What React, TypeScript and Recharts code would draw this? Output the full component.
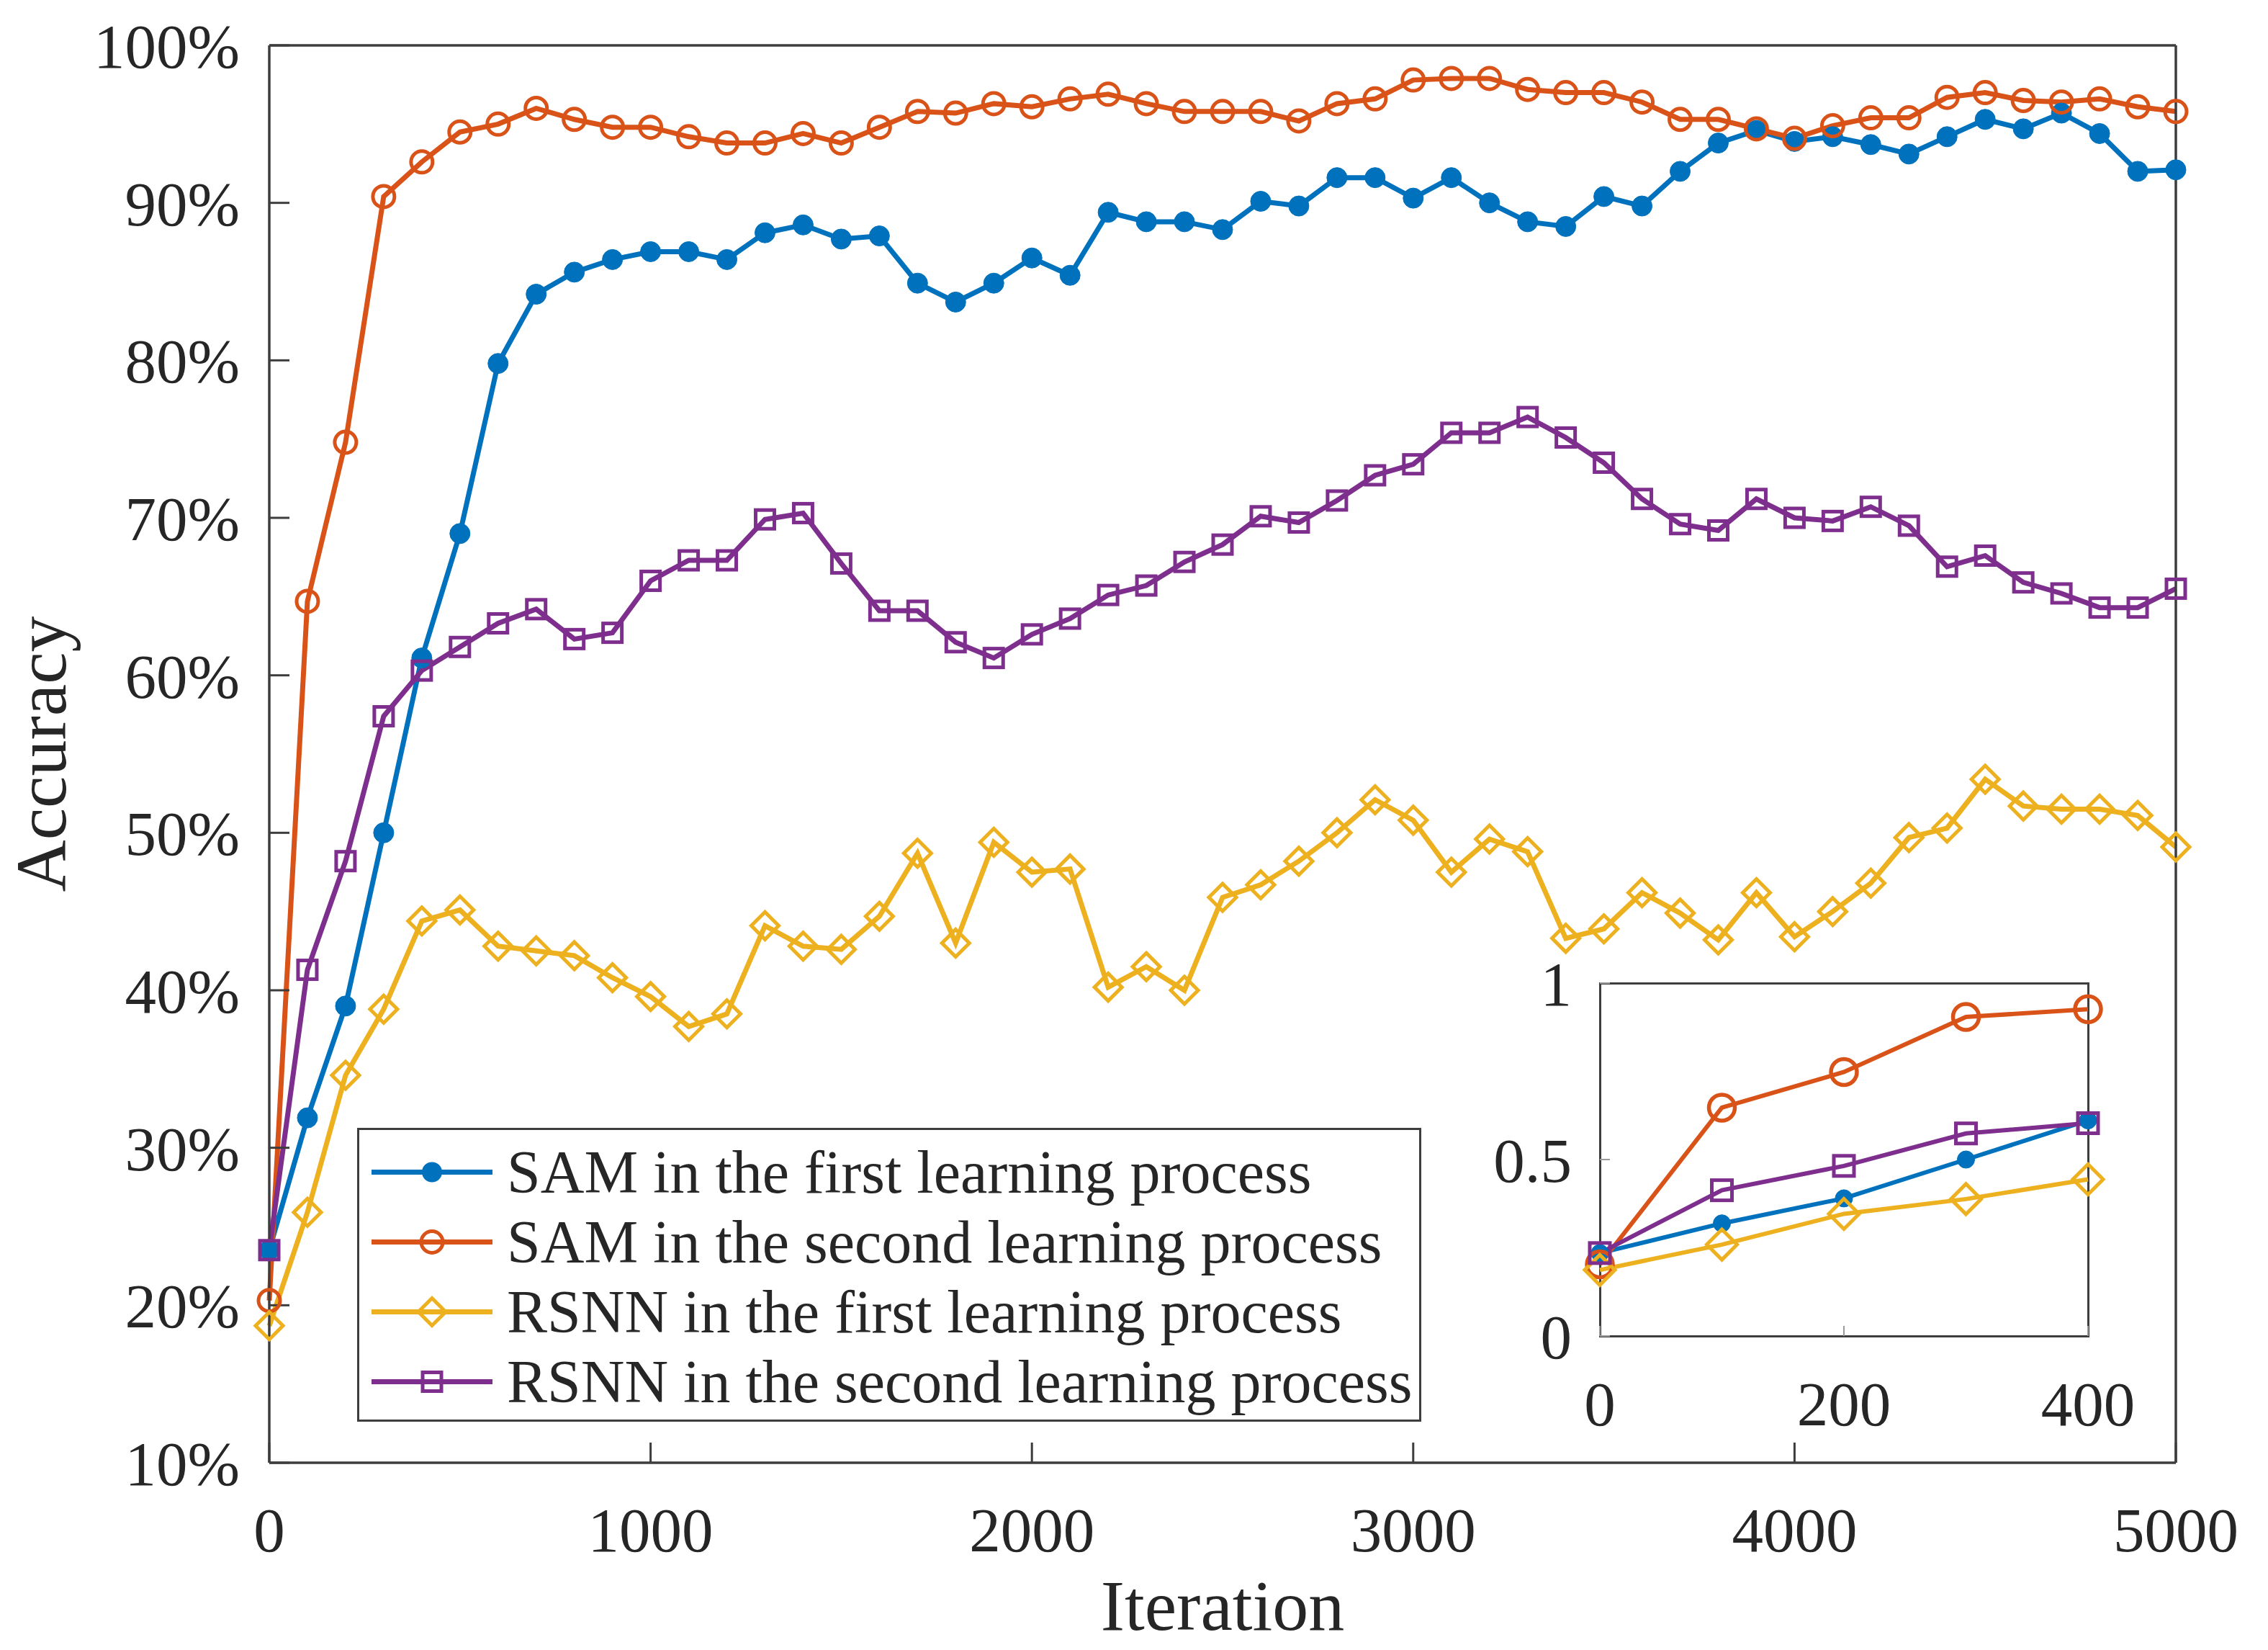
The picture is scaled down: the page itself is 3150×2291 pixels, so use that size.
import { LineChart, Line, XAxis, YAxis } from "recharts";

const FONT = '"Liberation Serif", "Times New Roman", Times, serif';
const INK = "#262626";
const AXIS = "#3d3d3d";

const BLUE = "#0072BD";
const ORANGE = "#D95319";
const YELLOW = "#EDB120";
const PURPLE = "#7E2F8E";

// iteration steps on the x axis
const iterations = [
  0, 100, 200, 300, 400, 500, 600, 700, 800, 900, 1000, 1100, 1200, 1300, 1400, 1500, 1600, 1700,
  1800, 1900, 2000, 2100, 2200, 2300, 2400, 2500, 2600, 2700, 2800, 2900, 3000, 3100, 3200, 3300,
  3400, 3500, 3600, 3700, 3800, 3900, 4000, 4100, 4200, 4300, 4400, 4500, 4600, 4700, 4800, 4900, 5000,
];

// accuracy in %
const samFirst = [
  23.5, 31.9, 39.0, 50.0, 61.1, 69.0, 79.8, 84.2, 85.6, 86.4, 86.9, 86.9, 86.4, 88.1, 88.6, 87.7, 87.9,
  84.9, 83.7, 84.9, 86.5, 85.4, 89.4, 88.8, 88.8, 88.3, 90.1, 89.8, 91.6, 91.6, 90.3, 91.6, 90.0, 88.8,
  88.5, 90.4, 89.8, 92.0, 93.8, 94.6, 93.9, 94.2, 93.7, 93.1, 94.2, 95.3, 94.7, 95.7, 94.4, 92.0, 92.1,
];
const samSecond = [
  20.3, 64.7, 74.8, 90.4, 92.6, 94.5, 95.0, 96.0, 95.3, 94.8, 94.8, 94.2, 93.8, 93.8, 94.4, 93.8, 94.8,
  95.8, 95.7, 96.3, 96.1, 96.6, 96.9, 96.3, 95.8, 95.8, 95.8, 95.2, 96.3, 96.6, 97.8, 97.9, 97.9, 97.2,
  97.0, 97.0, 96.4, 95.3, 95.3, 94.7, 94.1, 94.9, 95.4, 95.4, 96.7, 97.0, 96.5, 96.4, 96.6, 96.1, 95.8,
];
const rsnnFirst = [
  18.7, 25.9, 34.6, 38.8, 44.4, 45.1, 42.8, 42.5, 42.2, 40.8, 39.6, 37.7, 38.5, 44.1, 42.8, 42.6, 44.7,
  48.7, 43.0, 49.4, 47.5, 47.7, 40.2, 41.5, 40.0, 45.9, 46.7, 48.2, 50.0, 52.1, 50.8, 47.5, 49.6, 48.8,
  43.3, 43.9, 46.2, 44.9, 43.2, 46.2, 43.4, 45.0, 46.8, 49.7, 50.3, 53.4, 51.7, 51.5, 51.5, 51.1, 49.1,
];
const rsnnSecond = [
  23.5, 41.3, 48.2, 57.4, 60.3, 61.8, 63.3, 64.2, 62.3, 62.7, 66.0, 67.3, 67.3, 69.9, 70.3, 67.1, 64.1,
  64.1, 62.1, 61.1, 62.6, 63.6, 65.1, 65.7, 67.2, 68.3, 70.1, 69.7, 71.1, 72.7, 73.4, 75.4, 75.4, 76.4,
  75.1, 73.5, 71.2, 69.6, 69.2, 71.2, 70.0, 69.8, 70.7, 69.5, 66.9, 67.6, 65.9, 65.2, 64.3, 64.3, 65.5,
];

const xTicks = [0, 1000, 2000, 3000, 4000, 5000];
const yTicks = [10, 20, 30, 40, 50, 60, 70, 80, 90, 100];
const insetXTicks = [0, 200, 400];
const insetYTicks = [0, 0.5, 1];

const legendLabels = [
  "SAM in the first learning process",
  "SAM in the second learning process",
  "RSNN in the first learning process",
  "RSNN in the second learning process",
];

const mainData = iterations.map((iter, i) => ({
  iter,
  samFirst: samFirst[i],
  samSecond: samSecond[i],
  rsnnFirst: rsnnFirst[i],
  rsnnSecond: rsnnSecond[i],
}));

// the inset zooms into the first 400 iterations, as a fraction
const insetData = iterations.slice(0, 5).map((iter, i) => ({
  iter,
  samFirst: samFirst[i] / 100,
  samSecond: samSecond[i] / 100,
  rsnnFirst: rsnnFirst[i] / 100,
  rsnnSecond: rsnnSecond[i] / 100,
}));

const Diamond = ({ cx, cy, r, sw }: any) => (
  <path
    d={`M${cx},${cy - r}L${cx + r},${cy}L${cx},${cy + r}L${cx - r},${cy}Z`}
    fill="none"
    stroke={YELLOW}
    strokeWidth={sw}
  />
);

const Square = ({ cx, cy, r, sw }: any) => (
  <rect x={cx - r} y={cy - r} width={2 * r} height={2 * r} fill="none" stroke={PURPLE} strokeWidth={sw} />
);

const diamondDot = (r: number, sw: number) => (p: any) =>
  <Diamond key={`dm-${p.index}`} cx={p.cx} cy={p.cy} r={r} sw={sw} />;
const squareDot = (r: number, sw: number) => (p: any) =>
  <Square key={`sq-${p.index}`} cx={p.cx} cy={p.cy} r={r} sw={sw} />;

const tickStyle = { fill: INK, fontSize: 87, fontFamily: FONT };

const Legend = () => (
  <div
    style={{
      position: "absolute",
      left: 496,
      top: 1566,
      width: 1478,
      height: 408,
      boxSizing: "border-box",
      border: `3px solid ${AXIS}`,
      background: "#fff",
      fontFamily: FONT,
      color: INK,
    }}
  >
    {legendLabels.map((label, i) => (
      <div
        key={label}
        style={{ position: "absolute", left: 0, top: 10 + i * 97, height: 97, display: "flex", alignItems: "center" }}
      >
        <svg width={205} height={97}>
          <line
            x1={17}
            x2={185}
            y1={48.5}
            y2={48.5}
            stroke={[BLUE, ORANGE, YELLOW, PURPLE][i]}
            strokeWidth={7}
          />
          {i === 0 && <circle cx={101} cy={48.5} r={14} fill={BLUE} />}
          {i === 1 && <circle cx={101} cy={48.5} r={15} fill="none" stroke={ORANGE} strokeWidth={5} />}
          {i === 2 && <Diamond cx={101} cy={48.5} r={19} sw={5} />}
          {i === 3 && <Square cx={101} cy={48.5} r={13} sw={5} />}
        </svg>
        <span style={{ fontSize: 84, whiteSpace: "nowrap" }}>{label}</span>
      </div>
    ))}
  </div>
);

const Inset = () => (
  <>
    <div
      style={{
        position: "absolute",
        left: 2220.5,
        top: 1363.5,
        width: 681,
        height: 493,
        boxSizing: "border-box",
        border: `3px solid ${AXIS}`,
        background: "#fff",
      }}
    />
    <div style={{ position: "absolute", left: 2022, top: 1305 }}>
      <LineChart width={1008} height={700} data={insetData} margin={{ top: 60, right: 130, left: 0, bottom: 0 }}>
        <XAxis
          dataKey="iter"
          type="number"
          domain={[0, 400]}
          ticks={insetXTicks}
          interval={0}
          height={150}
          axisLine={false}
          tickSize={-14}
          tickMargin={76}
          tickLine={{ stroke: "#9a9a9a", strokeWidth: 2 }}
          tick={tickStyle}
        />
        <YAxis
          type="number"
          domain={[0, 1]}
          ticks={insetYTicks}
          interval={0}
          width={200}
          axisLine={false}
          tickSize={-14}
          tickMargin={53}
          tickLine={{ stroke: "#9a9a9a", strokeWidth: 2 }}
          tick={tickStyle}
        />
        <Line dataKey="samFirst" stroke={BLUE} strokeWidth={6} dot={{ r: 12, fill: BLUE, stroke: BLUE, strokeWidth: 1 }} isAnimationActive={false} />
        <Line dataKey="samSecond" stroke={ORANGE} strokeWidth={6} dot={{ r: 18, fill: "none", stroke: ORANGE, strokeWidth: 5.5 }} isAnimationActive={false} />
        <Line dataKey="rsnnFirst" stroke={YELLOW} strokeWidth={6} dot={diamondDot(21, 5)} isAnimationActive={false} />
        <Line dataKey="rsnnSecond" stroke={PURPLE} strokeWidth={6} dot={squareDot(14, 5)} isAnimationActive={false} />
      </LineChart>
    </div>
  </>
);

export default function App() {
  return (
    <div style={{ position: "absolute", left: 0, top: 0, width: 3150, height: 2291, background: "#fff", fontFamily: FONT }}>
      <LineChart width={3150} height={2291} data={mainData} margin={{ top: 62, right: 127, left: 0, bottom: 0 }}>
        <XAxis
          dataKey="iter"
          type="number"
          domain={[0, 5000]}
          ticks={xTicks}
          interval={0}
          height={260}
          stroke={AXIS}
          axisLine={{ stroke: AXIS, strokeWidth: 3.5 }}
          tickLine={{ stroke: AXIS, strokeWidth: 3 }}
          tickSize={-28}
          tickMargin={89}
          tick={tickStyle}
          label={{
            content: ({ viewBox }: any) => (
              <text
                x={viewBox.x + viewBox.width / 2}
                y={2263}
                textAnchor="middle"
                fill={INK}
                fontSize={100}
                fontFamily={FONT}
              >
                Iteration
              </text>
            ),
          }}
        />
        <XAxis
          xAxisId="top"
          orientation="top"
          dataKey="iter"
          type="number"
          domain={[0, 5000]}
          ticks={xTicks}
          interval={0}
          height={1}
          axisLine={{ stroke: AXIS, strokeWidth: 3.5 }}
          tickLine={{ stroke: AXIS, strokeWidth: 3 }}
          tickSize={-28}
          tick={false}
        />
        <YAxis
          type="number"
          domain={[10, 100]}
          ticks={yTicks}
          interval={0}
          width={374}
          axisLine={{ stroke: AXIS, strokeWidth: 3.5 }}
          tickLine={{ stroke: AXIS, strokeWidth: 3 }}
          tickSize={-28}
          tickMargin={69}
          tick={tickStyle}
          tickFormatter={(v: number) => `${v}%`}
          label={{
            content: () => (
              <text
                x={57}
                y={1047}
                transform="rotate(-90 57 1047)"
                textAnchor="middle"
                dominantBaseline="central"
                fill={INK}
                fontSize={100}
                fontFamily={FONT}
              >
                Accuracy
              </text>
            ),
          }}
        />
        <YAxis
          yAxisId="right"
          orientation="right"
          type="number"
          domain={[10, 100]}
          ticks={yTicks}
          interval={0}
          width={1}
          axisLine={{ stroke: AXIS, strokeWidth: 3.5 }}
          tickLine={{ stroke: AXIS, strokeWidth: 3 }}
          tickSize={-28}
          tick={false}
        />
        <Line dataKey="samFirst" stroke={BLUE} strokeWidth={7} dot={{ r: 14, fill: BLUE, stroke: BLUE, strokeWidth: 1 }} isAnimationActive={false} />
        <Line dataKey="samSecond" stroke={ORANGE} strokeWidth={7} dot={{ r: 15, fill: "none", stroke: ORANGE, strokeWidth: 5 }} isAnimationActive={false} />
        <Line dataKey="rsnnFirst" stroke={YELLOW} strokeWidth={7} dot={diamondDot(19, 5)} isAnimationActive={false} />
        <Line dataKey="rsnnSecond" stroke={PURPLE} strokeWidth={7} dot={squareDot(13, 5)} isAnimationActive={false} />
      </LineChart>
      <Legend />
      <Inset />
    </div>
  );
}
